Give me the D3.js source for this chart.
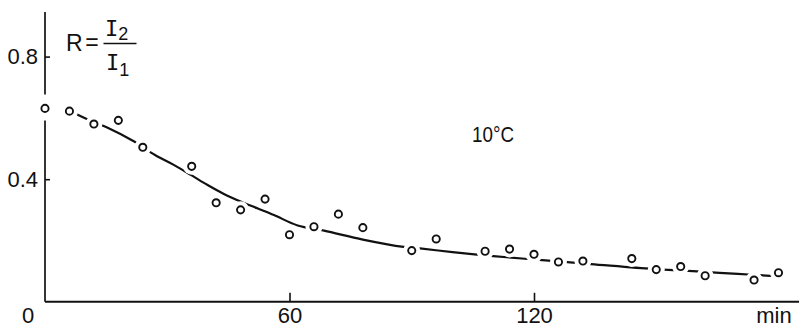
<!DOCTYPE html>
<html>
<head>
<meta charset="utf-8">
<script src="https://cdn.jsdelivr.net/npm/d3@7"></script>
<style>
  html, body { margin: 0; padding: 0; background: #fff; }
  svg { display: block; }
</style>
</head>
<body>
<div id="chart"></div>
<script>
// measured points: time (min) and ratio R = I2/I1
const times  = [0, 6, 12, 18, 24, 36, 42, 48, 54, 60, 66, 72, 78, 90, 96, 108, 114, 120, 126, 132, 144, 150, 156, 162, 174, 180];
const ratios = [0.631, 0.622, 0.580, 0.592, 0.504, 0.442, 0.323, 0.300, 0.335, 0.219, 0.245, 0.286, 0.242, 0.167, 0.205, 0.165, 0.172, 0.155, 0.130, 0.133, 0.141, 0.105, 0.115, 0.085, 0.071, 0.095];

// hand drawn fit curve
const curveT = [7, 11, 15, 22, 27, 31.7, 35.8, 39.9, 43.9, 48, 52.1, 56.2, 62, 68.5, 78, 88, 92, 100, 106, 110, 122, 134, 149, 155, 159, 170, 179];
const curveR = [0.617, 0.592, 0.570, 0.522, 0.479, 0.446, 0.414, 0.381, 0.352, 0.327, 0.305, 0.283, 0.249, 0.232, 0.203, 0.179, 0.174, 0.162, 0.154, 0.149, 0.136, 0.123, 0.107, 0.103, 0.100, 0.091, 0.084];

const xTicks = [60, 120];
const yTicks = [0.4, 0.8];

const W = 799, H = 327;
const font = "'Liberation Sans', Arial, sans-serif";
const ink = "#111";

const svg = d3.select("#chart").append("svg")
  .attr("width", W)
  .attr("height", H);

const x = d3.scaleLinear().domain([0, 180]).range([45, 778.5]);
const y = d3.scaleLinear().domain([0, 0.8]).range([301.8, 56.6]);

// mask: the curve is broken where it runs through a circle
const mask = svg.append("defs").append("mask")
  .attr("id", "gaps")
  .attr("maskUnits", "userSpaceOnUse")
  .attr("x", 0).attr("y", 0).attr("width", W).attr("height", H);
mask.append("rect").attr("width", W).attr("height", H).attr("fill", "white");
mask.selectAll("circle")
  .data(times)
  .enter().append("circle")
    .attr("cx", (d) => x(d))
    .attr("cy", (d, i) => y(ratios[i]))
    .attr("r", 8.5)
    .attr("fill", "black");

// x axis
const xAxis = svg.append("g")
  .attr("transform", "translate(0," + y(0) + ")")
  .call(d3.axisBottom(x).tickValues(xTicks).tickSize(-9).tickPadding(6).tickFormat(d3.format("d")));
xAxis.select(".domain").remove();
xAxis.selectAll("line").attr("stroke", ink).attr("stroke-width", 1.6);
xAxis.selectAll("text")
  .attr("font-family", font)
  .attr("font-size", 22)
  .attr("fill", ink);
svg.append("line")
  .attr("x1", x(0)).attr("x2", W)
  .attr("y1", y(0)).attr("y2", y(0))
  .attr("stroke", ink)
  .attr("stroke-width", 2);

// y axis
const yAxis = svg.append("g")
  .attr("transform", "translate(" + x(0) + ",0)")
  .call(d3.axisLeft(y).tickValues(yTicks).tickSize(-5).tickPadding(7).tickFormat(d3.format(".1f")));
yAxis.select(".domain").remove();
yAxis.selectAll("line").attr("stroke", ink).attr("stroke-width", 1.6);
yAxis.selectAll("text")
  .attr("font-family", font)
  .attr("font-size", 22)
  .attr("fill", ink);
// axis line, broken around the first point
svg.append("line")
  .attr("x1", x(0)).attr("x2", x(0))
  .attr("y1", y(0)).attr("y2", y(ratios[0]) + 12)
  .attr("stroke", ink).attr("stroke-width", 1.7);
svg.append("line")
  .attr("x1", x(0)).attr("x2", x(0))
  .attr("y1", y(ratios[0]) - 14).attr("y2", 12)
  .attr("stroke", ink).attr("stroke-width", 1.7);

svg.append("text")
  .attr("x", 28).attr("y", 323)
  .attr("text-anchor", "middle")
  .attr("font-family", font).attr("font-size", 22).attr("fill", ink)
  .text("0");

svg.append("text")
  .attr("x", 774).attr("y", 323)
  .attr("text-anchor", "middle")
  .attr("font-family", font).attr("font-size", 22).attr("fill", ink)
  .text("min");

// fitted curve
const line = d3.line()
  .x((d) => x(d[0]))
  .y((d) => y(d[1]))
  .curve(d3.curveCatmullRom);

svg.append("path")
  .datum(curveT.map((t, i) => [t, curveR[i]]))
  .attr("d", line)
  .attr("fill", "none")
  .attr("stroke", ink)
  .attr("stroke-width", 2.2)
  .attr("mask", "url(#gaps)");

// points
svg.append("g")
  .selectAll("circle")
  .data(times)
  .enter().append("circle")
    .attr("cx", (d) => x(d))
    .attr("cy", (d, i) => y(ratios[i]))
    .attr("r", 3.6)
    .attr("fill", "#fff")
    .attr("stroke", ink)
    .attr("stroke-width", 1.9);

// R = I2 / I1
svg.append("text")
  .attr("x", 66).attr("y", 51)
  .attr("font-family", font).attr("font-size", 23).attr("fill", ink)
  .text("R");
svg.append("text")
  .attr("x", 92).attr("y", 50)
  .attr("text-anchor", "middle")
  .attr("font-family", font).attr("font-size", 23).attr("fill", ink)
  .text("=");
svg.append("line")
  .attr("x1", 103.5).attr("x2", 136.5)
  .attr("y1", 43.5).attr("y2", 43.5)
  .attr("stroke", ink).attr("stroke-width", 1.6);

const num = svg.append("text")
  .attr("x", 105).attr("y", 36)
  .attr("font-family", "'DejaVu Sans Mono', monospace").attr("font-size", 22).attr("fill", ink);
num.append("tspan").text("I");
num.append("tspan")
  .attr("dy", 4)
  .attr("font-family", font).attr("font-size", 18)
  .text("2");

const den = svg.append("text")
  .attr("x", 106).attr("y", 70)
  .attr("font-family", "'DejaVu Sans Mono', monospace").attr("font-size", 22).attr("fill", ink);
den.append("tspan").text("I");
den.append("tspan")
  .attr("dy", 6)
  .attr("font-family", font).attr("font-size", 18)
  .text("1");

// temperature label
svg.append("text")
  .attr("x", 472).attr("y", 142)
  .attr("font-family", font).attr("font-size", 22).attr("fill", ink)
  .attr("textLength", 42).attr("lengthAdjust", "spacingAndGlyphs")
  .text("10°C");
</script>
</body>
</html>
